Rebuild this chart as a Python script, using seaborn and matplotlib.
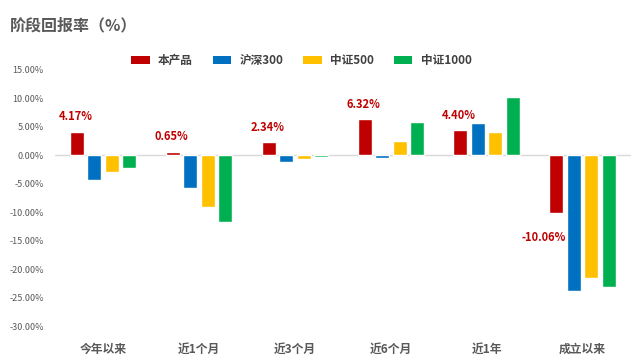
import numpy as np
import pandas as pd
import matplotlib
matplotlib.use("Agg")
import matplotlib.pyplot as plt
import seaborn as sns
from matplotlib.patches import Patch

# 阶段回报率数据（%）
periods = ["今年以来", "近1个月", "近3个月", "近6个月", "近1年", "成立以来"]
series_names = ["本产品", "沪深300", "中证500", "中证1000"]
product = [4.17, 0.65, 2.34, 6.32, 4.40, -10.06]
hs300 = [-4.4, -5.8, -1.2, -0.5, 5.6, -23.9]
zz500 = [-3.0, -9.1, -0.7, 2.5, 4.1, -21.5]
zz1000 = [-2.3, -11.8, -0.35, 5.8, 10.2, -23.2]
colors = ["#C00000", "#0070C0", "#FFC000", "#00B050"]

df = pd.DataFrame({
    "period": periods * 4,
    "series": np.repeat(series_names, len(periods)),
    "value": product + hs300 + zz500 + zz1000,
})

sns.set_theme(style="white")
plt.rcParams["font.family"] = ["Noto Sans CJK SC", "DejaVu Sans"]

fig = plt.figure(figsize=(6.41, 3.6), dpi=100)
ax = fig.add_axes([0.0858, 0.0944, 0.898, 0.7112])

sns.barplot(data=df, x="period", y="value", hue="series", order=periods,
            hue_order=series_names, palette=colors, width=0.73, gap=0.2,
            saturation=1, legend=False, ax=ax)

ax.axhline(0, color="#D9D9D9", lw=1, zorder=0)
ax.set_xlim(-0.5, len(periods) - 0.5)
ax.set_ylim(-30, 15)
ax.set_yticks(np.arange(-30, 16, 5))
ax.set_yticklabels([f"{v:.2f}%" for v in np.arange(-30, 16, 5)])
ax.tick_params(axis="y", labelsize=6.5, labelcolor="#595959", length=0, pad=8)
ax.tick_params(axis="x", labelsize=8.5, labelcolor="#595959", length=0, pad=12)
for lab in ax.get_xticklabels():
    lab.set_fontweight("bold")
ax.set_xlabel("")
ax.set_ylabel("")
for s in ax.spines.values():
    s.set_visible(False)

# 本产品数据标签
red_bars = ax.containers[0]
for bar, v in zip(red_bars, product):
    cx = bar.get_x() + bar.get_width() / 2
    if v >= 0:
        ax.annotate(f"{v:.2f}%", (cx, v), xytext=(-1, 6), textcoords="offset points",
                    ha="center", va="bottom", color="#C00000", fontsize=8, fontweight="bold")
    else:
        ax.annotate(f"{v:.2f}%", (cx, v), xytext=(-9, -13), textcoords="offset points",
                    ha="center", va="top", color="#C00000", fontsize=8, fontweight="bold")

fig.text(0.016, 0.93, "阶段回报率（%）", fontsize=11.5, fontweight="bold",
         color="#595959", va="center", ha="left")

handles = [Patch(facecolor=c, edgecolor="none") for c in colors]
leg = fig.legend(handles, series_names, loc="center", bbox_to_anchor=(0.47, 0.832),
                 ncol=4, frameon=False, handlelength=1.6, handleheight=0.7,
                 handletextpad=0.7, columnspacing=1.7,
                 prop={"size": 8.4, "weight": "bold"})
for t in leg.get_texts():
    t.set_color("#404040")

fig.savefig("out.png", dpi=100)
